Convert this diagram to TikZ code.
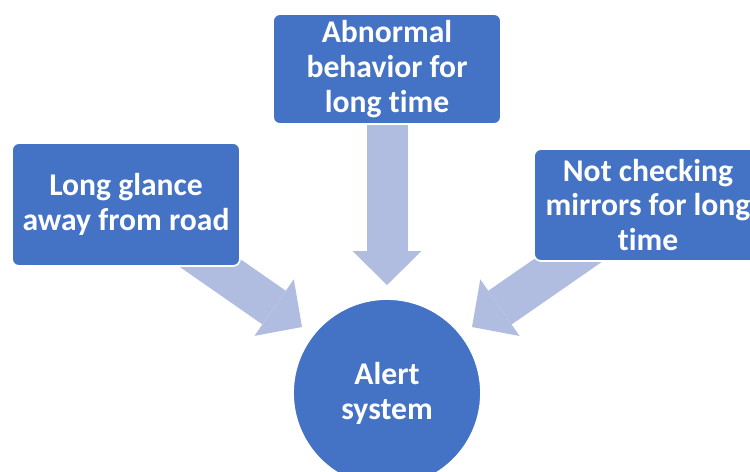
\documentclass[tikz,border=0pt]{standalone}
\usepackage{fontspec}
\setmainfont{Carlito}[Ligatures=NoCommon]
\usetikzlibrary{arrows.meta,backgrounds}
\definecolor{boxblue}{RGB}{68,114,196}
\definecolor{arrowblue}{RGB}{176,189,224}

\begin{document}
\begin{tikzpicture}[x=0.02cm,y=-0.02cm,
    box/.style={draw=white, line width=1pt, fill=boxblue, rounded corners=0.14cm, text=white, font=\bfseries\fontsize{18}{19.8}\selectfont, align=center, minimum width=4.56cm, inner sep=0pt},
    hub/.style={circle, draw=white, line width=1pt, fill=boxblue, text=white, font=\bfseries\fontsize{18}{19.8}\selectfont, align=center, minimum size=3.76cm, inner sep=0pt},
    bigarrow/.style={arrowblue, line width=0.82cm, -{Triangle[width=1.38cm, length=0.68cm, line width=0pt]}}]
    \useasboundingbox (0,0) rectangle (750,471);
    \clip (0,0) rectangle (750,471);

    \node[box, minimum height=2.46cm] (glance) at (126,204.5) {Long glance\\away from road};
    \node[box, minimum height=2.2cm] (abnormal) at (387,69) {Abnormal\\behavior for\\long time};
    \node[box, minimum height=2.24cm] (mirrors) at (648,205) {Not checking\\mirrors for long\\time};
    \node[hub] (alert) at (387,393) {Alert\\system};

    \coordinate (tipL) at (302,327);
    \coordinate (tipT) at (387,285);
    \coordinate (tipR) at (472,327);

    \begin{scope}[on background layer]
      \draw[bigarrow] (glance.center) -- (tipL);
      \draw[bigarrow] (abnormal.center) -- (tipT);
      \draw[bigarrow] (mirrors.center) -- (tipR);
    \end{scope}
\end{tikzpicture}
\end{document}
